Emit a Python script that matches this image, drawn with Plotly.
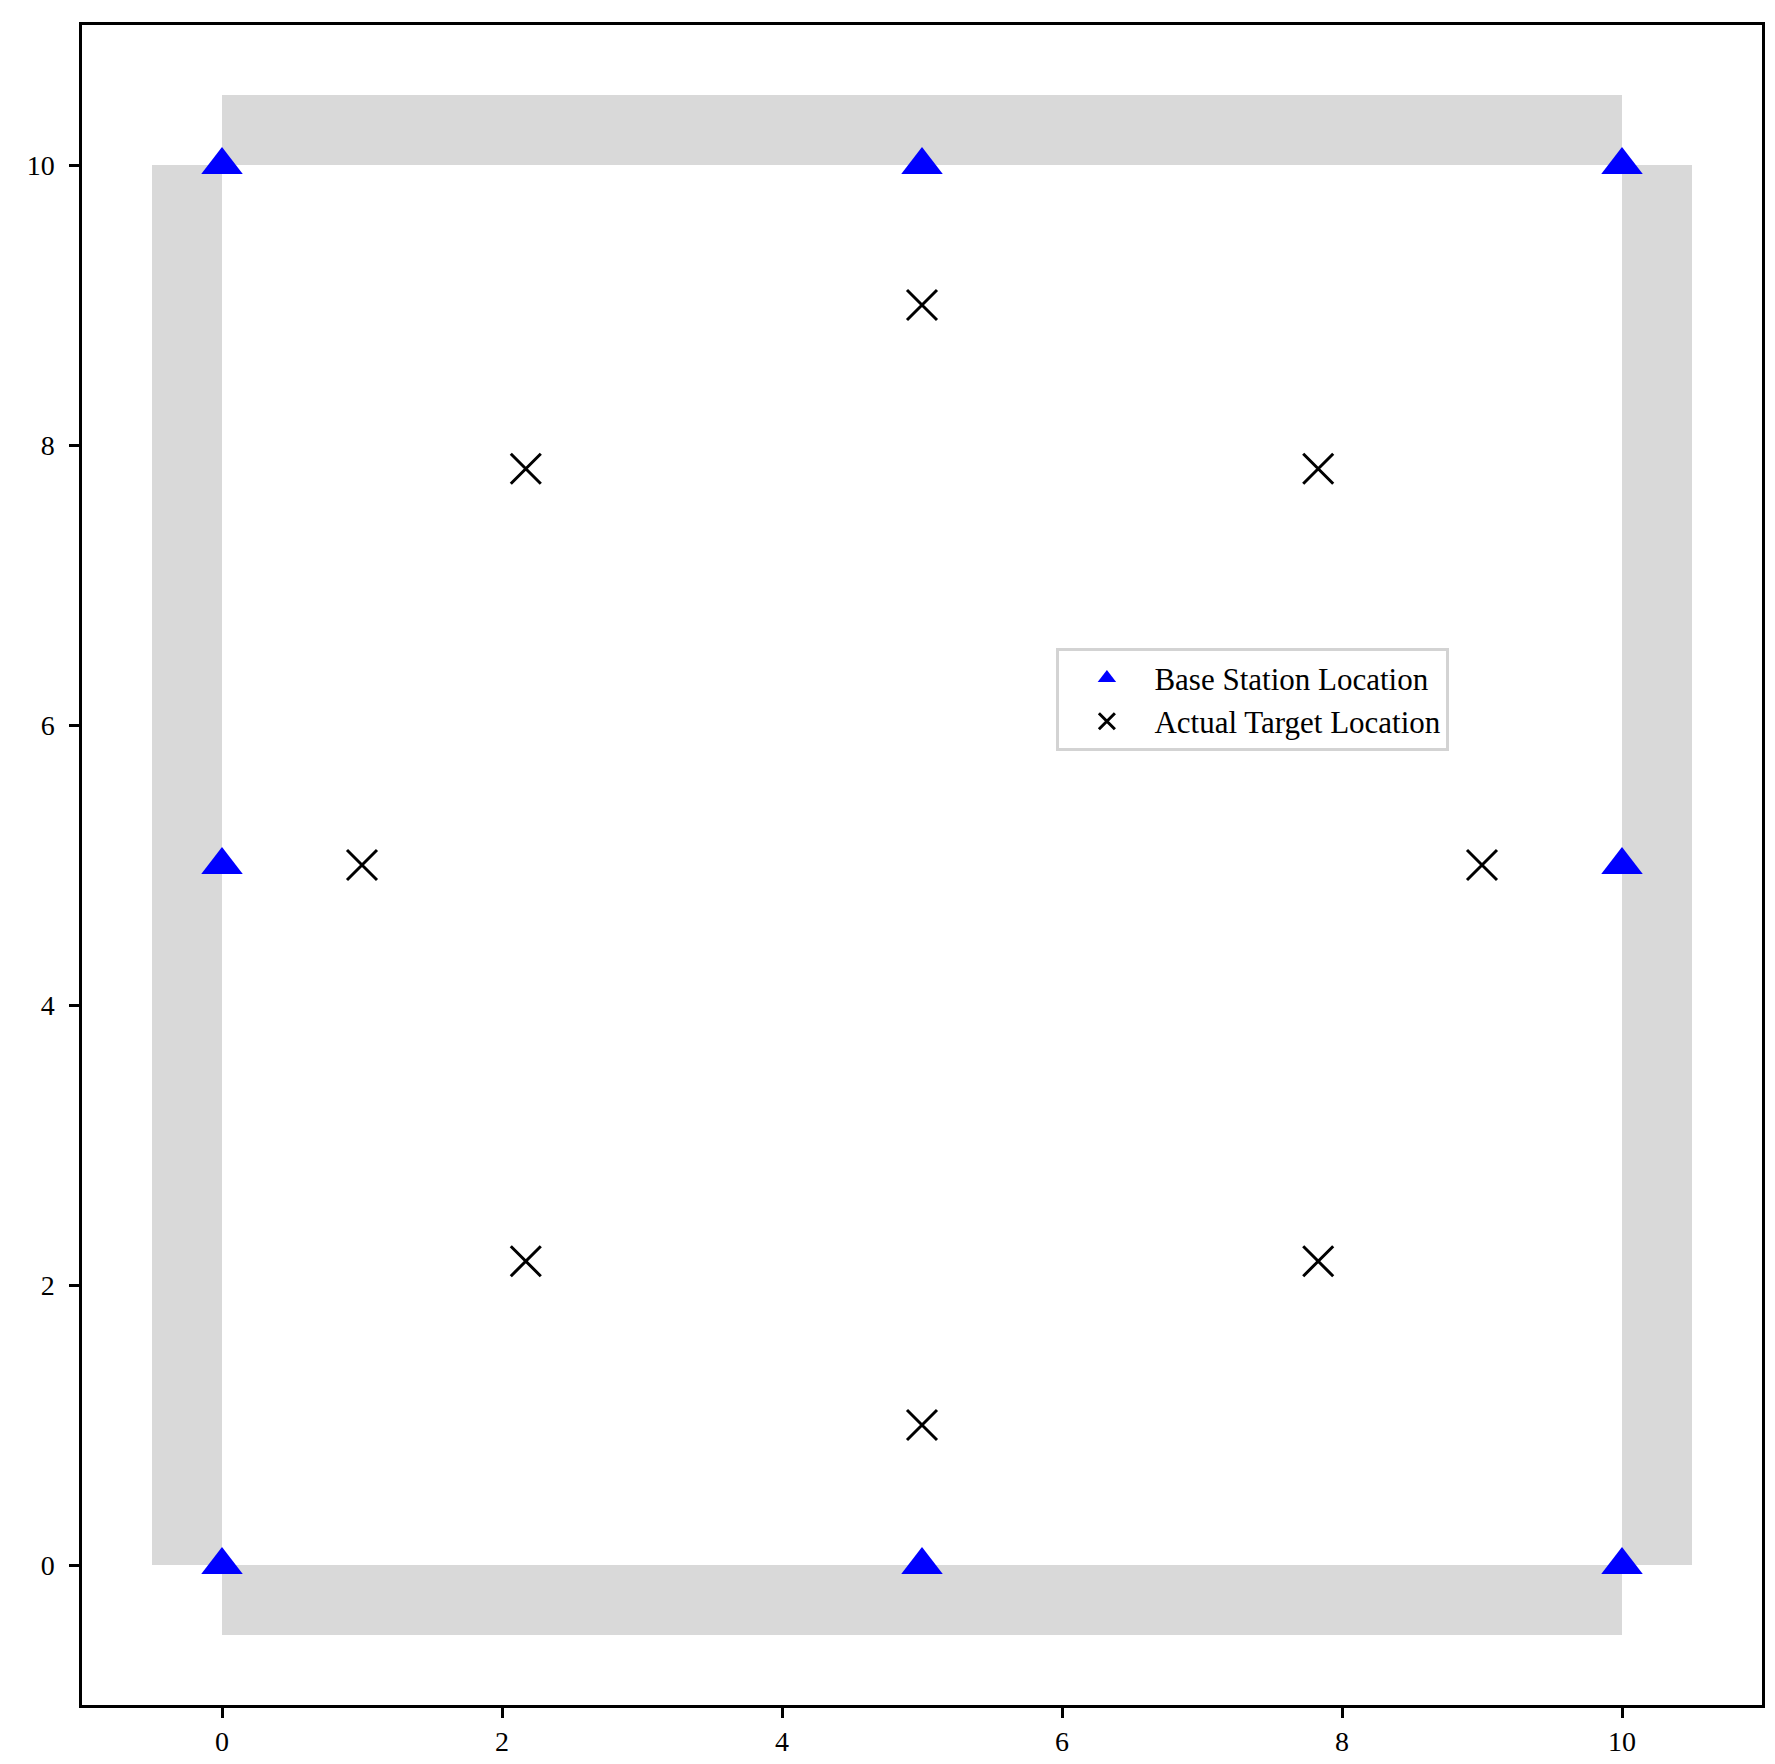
import plotly.graph_objects as go

# base stations on the square boundary
station_x = [0, 5, 10, 0, 10, 0, 5, 10]
station_y = [0, 0, 0, 5, 5, 10, 10, 10]

# target points
target_x = [5, 2.17, 7.83, 1, 9, 2.17, 7.83, 5]
target_y = [9, 7.83, 7.83, 5, 5, 2.17, 2.17, 1]

# grey border strips (x0, x1, y0, y1)
strips = [
    (0, 10, 10, 10.5),
    (0, 10, -0.5, 0),
    (-0.5, 0, 0, 10),
    (10, 10.5, 0, 10),
]

tick_vals = [0, 2, 4, 6, 8, 10]
axis_range = [-1, 11]

FONT = "Liberation Serif, Times New Roman, serif"

fig = go.Figure()

fig.add_trace(go.Scatter(
    x=station_x, y=station_y, mode="markers",
    name="Base Station Location",
    marker=dict(symbol="triangle-up", size=36, color="#0000ff", line=dict(width=0)),
))

fig.add_trace(go.Scatter(
    x=target_x, y=target_y, mode="markers",
    name="Actual Target Location",
    marker=dict(symbol="x-thin", size=30, color="black",
                line=dict(width=3, color="black")),
))

for x0, x1, y0, y1 in strips:
    fig.add_shape(type="rect", x0=x0, x1=x1, y0=y0, y1=y1,
                  xref="x", yref="y", layer="below",
                  fillcolor="#d9d9d9", line=dict(width=0))

axis_style = dict(
    range=axis_range, tickvals=tick_vals, automargin=False,
    showgrid=False, zeroline=False,
    showline=True, mirror=True, linecolor="black", linewidth=2.5,
    ticks="outside", ticklen=10, tickwidth=3, tickcolor="black",
    tickfont=dict(family=FONT, size=28, color="black"),
)

fig.update_xaxes(ticklabelstandoff=0, **axis_style)
fig.update_yaxes(ticklabelstandoff=9, **axis_style)

fig.update_layout(
    width=1775, height=1764,
    margin=dict(l=82, r=13, t=25, b=59),
    plot_bgcolor="white", paper_bgcolor="white",
    font=dict(family=FONT, color="black"),
    legend=dict(
        x=0.580, y=0.629, xanchor="left", yanchor="top",
        bgcolor="white", bordercolor="#d3d3d3", borderwidth=3,
        font=dict(family=FONT, size=31, color="black"),
        itemwidth=85,
    ),
)

# drop the default page margin so the figure sits at the window origin
fig.write_html("out.html", config={"displayModeBar": False},
               post_script="document.body.style.margin='0';")
